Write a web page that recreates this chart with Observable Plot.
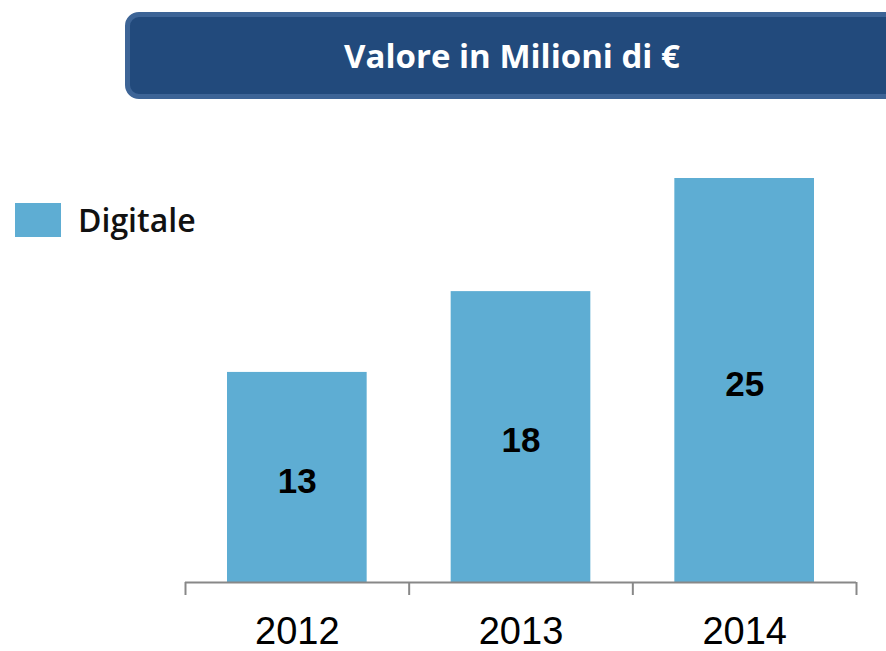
<!DOCTYPE html>
<html>
<head>
<meta charset="utf-8">
<script src="https://cdn.jsdelivr.net/npm/d3@7"></script>
<script src="https://cdn.jsdelivr.net/npm/@observablehq/plot@0.6"></script>
<style>
  html, body { margin: 0; padding: 0; background: #fff; }
  #wrap { position: relative; width: 886px; height: 651px; overflow: hidden; }
  #title {
    position: absolute; left: 125px; top: 12px; width: 800px; height: 77px;
    background: #224a7c; border: 5px solid #3d6496; border-radius: 14px;
    color: #fff; font-family: "Open Sans", sans-serif; font-weight: 700; font-size: 33px;
    box-sizing: content-box;
  }
  #title span { position: absolute; left: 382px; top: 50%; transform: translate(-50%, -52%); white-space: nowrap; }
  #legend { position: absolute; left: 15px; top: 203px; display: flex; align-items: center; }
  #legend .sw { width: 46px; height: 34px; background: #5eadd3; }
  #legend .lb { margin-left: 17px; font-family: "Open Sans", sans-serif; font-weight: 600; font-size: 32px; color: #111; line-height: 34px; }
  #chart { position: absolute; left: 0; top: 0; }
</style>
</head>
<body>
<div id="wrap">
  <div id="chart"></div>
  <div id="title"><span id="titleText"></span></div>
  <div id="legend"><div class="sw"></div><div class="lb" id="legendText"></div></div>
</div>
<script>
const years = [2012, 2013, 2014];
const values = [13, 18, 25];
const seriesName = "Digitale";
const titleText = "Valore in Milioni di €";

document.getElementById("titleText").textContent = titleText;
document.getElementById("legendText").textContent = seriesName;

const data = years.map((y, i) => ({year: y, value: values[i]}));
const boundaries = [years[0] - 0.5, ...years.map(y => y + 0.5)];

const chart = Plot.plot({
  width: 886,
  height: 651,
  marginLeft: 185,
  marginRight: 30,
  marginTop: 178,
  marginBottom: 69,
  style: {background: "transparent", overflow: "visible"},
  x: {type: "linear", domain: [boundaries[0], boundaries[boundaries.length - 1]]},
  y: {domain: [0, 25]},
  marks: [
    Plot.rectY(data, {x1: d => d.year - 0.5, x2: d => d.year + 0.5, y: "value", fill: "#5eadd3", insetLeft: 42, insetRight: 42}),
    Plot.ruleY([0], {stroke: "#888", strokeWidth: 2}),
    Plot.ruleX(boundaries, {x: d => d, y1: 0, y2: 0, insetBottom: -13, stroke: "#888", strokeWidth: 2}),
    Plot.text(data, {x: "year", y: d => d.value / 2, text: d => String(d.value), fontFamily: "Liberation Sans, Arial, sans-serif", fontWeight: "bold", fontSize: 35, fill: "#000", dy: 4}),
    Plot.axisX(years, {tickSize: 0, tickPadding: 35, tickFormat: d => String(d), fontSize: 38, fontFamily: "Liberation Sans, Arial, sans-serif", fill: "#000", label: null}),
    Plot.axisY({ticks: [], label: null, tickSize: 0})
  ]
});
document.getElementById("chart").appendChild(chart);
</script>
</body>
</html>
